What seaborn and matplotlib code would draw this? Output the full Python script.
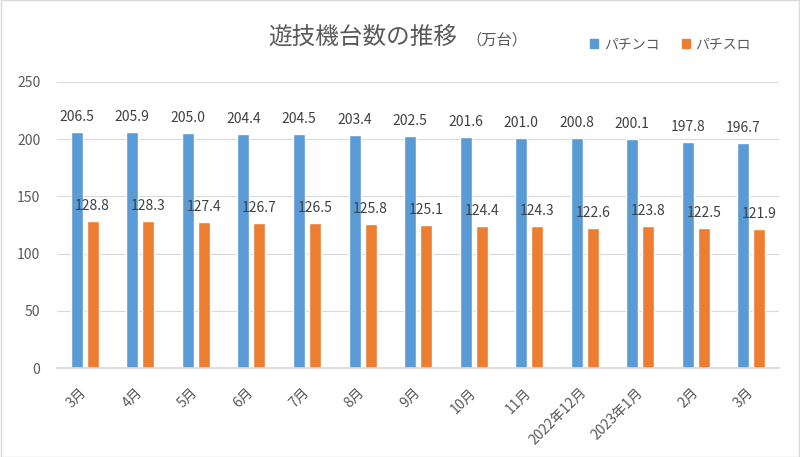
import matplotlib
matplotlib.use("Agg")
import matplotlib.pyplot as plt
import seaborn as sns
import pandas as pd
from matplotlib.patches import Patch

months = ["3月", "4月", "5月", "6月", "7月", "8月", "9月", "10月", "11月",
          "2022年12月", "2023年1月", "2月", "3月"]
pachinko = [206.5, 205.9, 205.0, 204.4, 204.5, 203.4, 202.5, 201.6, 201.0,
            200.8, 200.1, 197.8, 196.7]
pachislot = [128.8, 128.3, 127.4, 126.7, 126.5, 125.8, 125.1, 124.4, 124.3,
             122.6, 123.8, 122.5, 121.9]
series_names = ["パチンコ", "パチスロ"]
colors = ["#5B9BD5", "#ED7D31"]

rows = []
for i in range(len(months)):
    rows.append({"idx": i, "series": series_names[0], "value": pachinko[i]})
    rows.append({"idx": i, "series": series_names[1], "value": pachislot[i]})
df = pd.DataFrame(rows)

sns.set_theme(style="white")
plt.rcParams["font.family"] = ["Noto Sans CJK JP", "DejaVu Sans"]
txt = "#595959"

fig = plt.figure(figsize=(8, 4.57), dpi=100)
ax = fig.add_axes([0.0711, 0.1947, 0.903, 0.6259])
sns.barplot(data=df, x="idx", y="value", hue="series", hue_order=series_names,
            palette=colors, width=0.576, gap=0.25, ax=ax, legend=False,
            saturation=1)

ax.set_ylim(0, 250)
ax.set_xlim(-0.5, len(months) - 0.5)
ax.set_yticks([0, 50, 100, 150, 200, 250])
ax.yaxis.grid(True, color="#D9D9D9", linewidth=0.8)
ax.set_axisbelow(True)
for s in ["left", "right", "top"]:
    ax.spines[s].set_visible(False)
ax.spines["bottom"].set_color("#D9D9D9")
ax.tick_params(axis="both", length=0, colors=txt, labelsize=10)
ax.tick_params(axis="y", pad=12)
ax.tick_params(axis="x", pad=16)
ax.set_xticks(range(len(months)))
ax.set_xticklabels(months, rotation=45, ha="right", va="center", rotation_mode="anchor")
ax.set_xlabel("")
ax.set_ylabel("")

# data labels
for ci, cont in enumerate(ax.containers):
    for bar in cont:
        h = bar.get_height()
        cx = bar.get_x() + bar.get_width() / 2
        ax.annotate(f"{h:.1f}", (cx, h), xytext=(0, 15), textcoords="offset pixels",
                    ha="center", va="center", fontsize=10, color="#404040")

fig.text(0.335, 0.918, "遊技機台数の推移", fontsize=17, color=txt, va="center", ha="left")
fig.text(0.583, 0.913, "（万台）", fontsize=11, color=txt, va="center", ha="left")

handles = [Patch(color=c) for c in colors]
fig.legend(handles, series_names, loc="center left", bbox_to_anchor=(0.722, 0.903),
           ncol=2, frameon=False, fontsize=10, handlelength=0.6, handleheight=0.6,
           columnspacing=1.6, handletextpad=0.4, labelcolor=txt)

fig.patches.append(plt.Rectangle((0.001, 0.001), 0.998, 0.998, transform=fig.transFigure,
                                 fill=False, edgecolor="#D9D9D9", linewidth=1))
fig.savefig("out.png", dpi=100)
